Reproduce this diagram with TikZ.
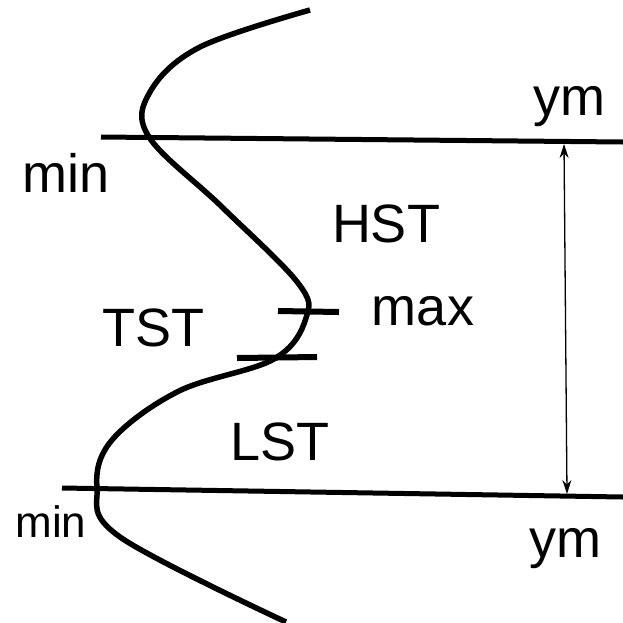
\documentclass[tikz,border=0pt]{standalone}
\usepackage{fontspec}
\setmainfont{Liberation Sans}
\usetikzlibrary{arrows.meta}
\begin{document}
\begin{tikzpicture}[x=1pt,y=-1pt,
  lbl/.style={anchor=base,inner sep=0pt,font=\fontsize{54}{60}\selectfont},
  smalllbl/.style={anchor=base,inner sep=0pt,font=\fontsize{44}{50}\selectfont},
  thick line/.style={line width=5pt},
  tick/.style={line width=6pt},
  dim/.style={line width=1.3pt,{Stealth[length=14pt,width=9pt]}-{Stealth[length=14pt,width=9pt]}}]
\useasboundingbox[fill=white] (0,0) rectangle (623,622);
% reference lines
\coordinate (t1) at (101,137); \coordinate (t2) at (623,142);
\coordinate (b1) at (62,488);  \coordinate (b2) at (623,497);
\draw[thick line] (t1) -- (t2);
\draw[thick line] (b1) -- (b2);
% ticks
\coordinate (m1) at (278,311); \coordinate (m2) at (339,312);
\coordinate (n1) at (237,358); \coordinate (n2) at (317,357);
\draw[tick] (m1) -- (m2);
\draw[tick] (n1) -- (n2);
% curve
\draw[line width=5.5pt, line cap=butt] plot[smooth, tension=0.6] coordinates {
 (310,10) (200,47) (150,92) (149,137) (222,207) (298,283) (306,318)
 (274,359) (179,391) (112,440) (97,488) (120,537) (286,622)};
% dimension arrow
\coordinate (a1) at (564,144); \coordinate (a2) at (567,494);
\draw[dim] (a1) -- (a2);
% labels
\node[lbl] (ymt) at (569,115) {ym};
\node[lbl] (mint) at (66,192) {min};
\node[lbl] (hst) at (386,242) {HST};
\node[lbl] (max) at (423,325) {max};
\node[lbl] (tst) at (153,346) {TST};
\node[lbl] (lst) at (280,460) {LST};
\node[smalllbl] (minb) at (51,537) {min};
\node[lbl] (ymb) at (565,557) {ym};
\end{tikzpicture}
\end{document}
